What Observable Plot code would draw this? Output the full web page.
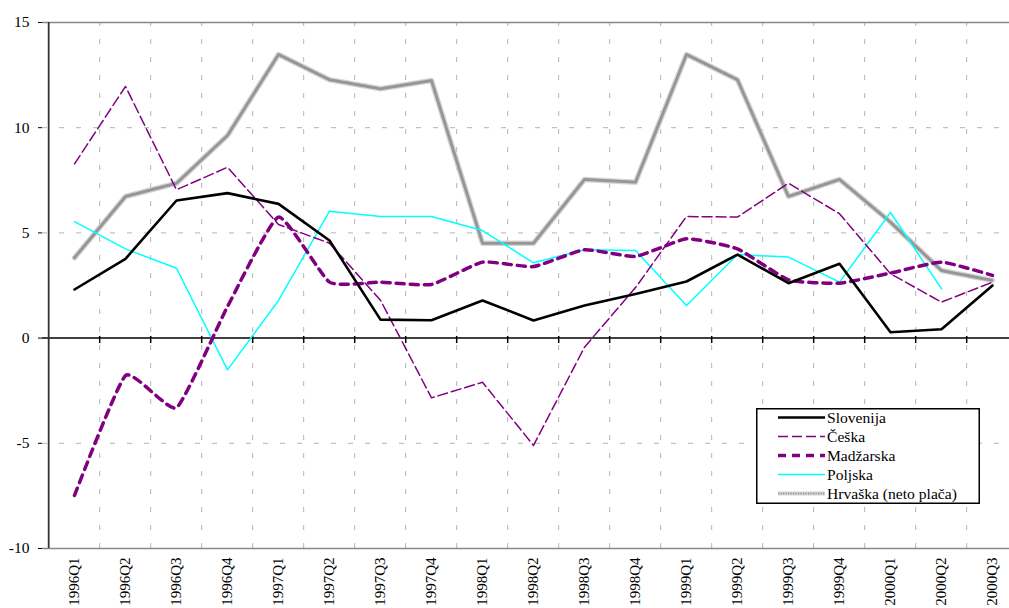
<!DOCTYPE html>
<html>
<head>
<meta charset="utf-8">
<script src="https://cdn.jsdelivr.net/npm/d3@7"></script>
<script src="https://cdn.jsdelivr.net/npm/@observablehq/plot@0.6"></script>
<style>
  body { margin: 0; background: #fff; }
  #wrap { position: relative; width: 1009px; height: 608px; overflow: hidden; font-family: "Liberation Serif", "Times New Roman", serif; }
  #legend { position: absolute; left: 756px; top: 408px; }
</style>
</head>
<body>
<div id="wrap"></div>
<script>
const quarters = ["1996Q1","1996Q2","1996Q3","1996Q4","1997Q1","1997Q2","1997Q3","1997Q4","1998Q1","1998Q2","1998Q3","1998Q4","1999Q1","1999Q2","1999Q3","1999Q4","2000Q1","2000Q2","2000Q3"];
const slovenija = [2.31, 3.77, 6.54, 6.89, 6.38, 4.64, 0.88, 0.85, 1.79, 0.84, 1.55, 2.1, 2.69, 3.97, 2.61, 3.53, 0.28, 0.42, 2.5];
const ceska     = [8.28, 11.96, 7.05, 8.12, 5.4, 4.51, 1.8, -2.84, -2.1, -5.1, -0.43, 2.4, 5.78, 5.75, 7.36, 5.91, 3.06, 1.71, 2.66];
const madzarska = [-7.48, -1.78, -3.31, 1.5, 5.75, 2.66, 2.66, 2.55, 3.61, 3.4, 4.2, 3.88, 4.72, 4.24, 2.77, 2.61, 3.09, 3.61, 2.98];
const poljska   = [5.54, 4.24, 3.32, -1.51, 1.79, 6.03, 5.78, 5.78, 5.11, 3.58, 4.2, 4.16, 1.55, 3.97, 3.85, 2.66, 5.97, 2.34, null];
const hrvaska   = [3.82, 6.73, 7.36, 9.63, 13.48, 12.28, 11.85, 12.24, 4.51, 4.51, 7.54, 7.41, 13.48, 12.28, 6.73, 7.54, 5.51, 3.21, 2.74];
const seriesNames = ["Slovenija", "Češka", "Madžarska", "Poljska", "Hrvaška (neto plača)"];
const yTicks = [-10, -5, 0, 5, 10, 15];
const yGrid = [-5, 5, 10];

const toRows = (vals) => quarters.map((q, i) => ({q, v: vals[i]})).filter(d => d.v != null);

const xRange = [42, 1023];
const step = (xRange[1] - xRange[0]) / quarters.length;
const boundaries = quarters.slice(1);
const gridColor = "#b4b4b4";
const purple = "#800080";
const serif = '"Liberation Serif", "Times New Roman", serif';

const chart = Plot.plot({
  width: 1009,
  height: 608,
  marginLeft: 42,
  marginRight: 0,
  marginTop: 22,
  marginBottom: 60,
  style: {fontFamily: serif, fontSize: "15px", color: "#000", background: "#fff"},
  x: {type: "point", domain: quarters, range: xRange, padding: 0.5, label: null},
  y: {domain: [-10, 15], label: null},
  marks: [
    Plot.ruleY(yGrid, {stroke: gridColor, strokeDasharray: "5,12", strokeWidth: 1}),
    Plot.ruleX(boundaries, {y1: -10, y2: 15, dx: -step / 2, stroke: gridColor, strokeDasharray: "5,13", strokeWidth: 1}),
    Plot.ruleY([15, -10], {stroke: "#888", strokeWidth: 1.5}),
    Plot.ruleY([0], {stroke: "#000", strokeWidth: 1.5}),
    Plot.ruleX(boundaries, {y1: 0.08, y2: -0.26, dx: -step / 2, stroke: "#000", strokeWidth: 1.5}),
    Plot.axisY({ticks: yTicks, tickSize: 4, tickPadding: 9, tickFormat: d => String(d), fontSize: 15.5, label: null}),
    Plot.axisX({tickSize: 0, tickRotate: -90, tickPadding: 9, fontSize: 15, label: null}),
    Plot.ruleX([0], {x: () => quarters[0], y1: -10, y2: 15, dx: -step / 2, stroke: "#333", strokeWidth: 1.8}),
    // Hrvaška: textured grey band
    Plot.line(toRows(hrvaska), {x: "q", y: "v", stroke: "#d6d6d6", strokeWidth: 5.5}),
    Plot.line(toRows(hrvaska), {x: "q", y: "v", stroke: "#7a7a7a", strokeWidth: 3, strokeDasharray: "1.2,1.3", strokeOpacity: 0.7}),
    Plot.line(toRows(poljska), {x: "q", y: "v", stroke: "#00ffff", strokeWidth: 1.5}),
    Plot.line(toRows(madzarska), {x: "q", y: "v", stroke: purple, strokeWidth: 3.5, strokeDasharray: "8,6", curve: "cardinal", tension: 0.55}),
    Plot.line(toRows(ceska), {x: "q", y: "v", stroke: purple, strokeWidth: 1.5, strokeDasharray: "10,4"}),
    Plot.line(toRows(slovenija), {x: "q", y: "v", stroke: "#000", strokeWidth: 2.6})
  ]
});
document.getElementById("wrap").appendChild(chart);

// Legend
const styles = [
  {stroke: "#000", width: 2.6, dash: null},
  {stroke: purple, width: 1.5, dash: "10,4"},
  {stroke: purple, width: 3.5, dash: "8,6"},
  {stroke: "#00ffff", width: 1.5, dash: null},
  {stroke: "hrv", width: 5.5, dash: null}
];
const ns = "http://www.w3.org/2000/svg";
const lg = document.createElementNS(ns, "svg");
lg.setAttribute("id", "legend");
lg.setAttribute("width", 225);
lg.setAttribute("height", 97);
const box = document.createElementNS(ns, "rect");
box.setAttribute("x", 0.75); box.setAttribute("y", 0.75);
box.setAttribute("width", 222.5); box.setAttribute("height", 94.5);
box.setAttribute("fill", "#fff"); box.setAttribute("stroke", "#000"); box.setAttribute("stroke-width", 1.5);
lg.appendChild(box);
seriesNames.forEach((name, i) => {
  const cy = 9.5 + i * 19;
  const s = styles[i];
  const addLine = (stroke, w, dash, op) => {
    const l = document.createElementNS(ns, "line");
    l.setAttribute("x1", 22); l.setAttribute("x2", 69);
    l.setAttribute("y1", cy); l.setAttribute("y2", cy);
    l.setAttribute("stroke", stroke); l.setAttribute("stroke-width", w);
    if (dash) l.setAttribute("stroke-dasharray", dash);
    if (op) l.setAttribute("stroke-opacity", op);
    lg.appendChild(l);
  };
  if (s.stroke === "hrv") {
    addLine("#d6d6d6", 4, null);
    addLine("#7a7a7a", 2.2, "1.2,1.3", 0.7);
  } else {
    addLine(s.stroke, s.width, s.dash);
  }
  const t = document.createElementNS(ns, "text");
  t.setAttribute("x", 71); t.setAttribute("y", cy + 5);
  t.setAttribute("font-family", serif);
  t.setAttribute("font-size", 15.6);
  t.setAttribute("fill", "#000");
  t.textContent = name;
  lg.appendChild(t);
});
document.getElementById("wrap").appendChild(lg);
</script>
</body>
</html>
